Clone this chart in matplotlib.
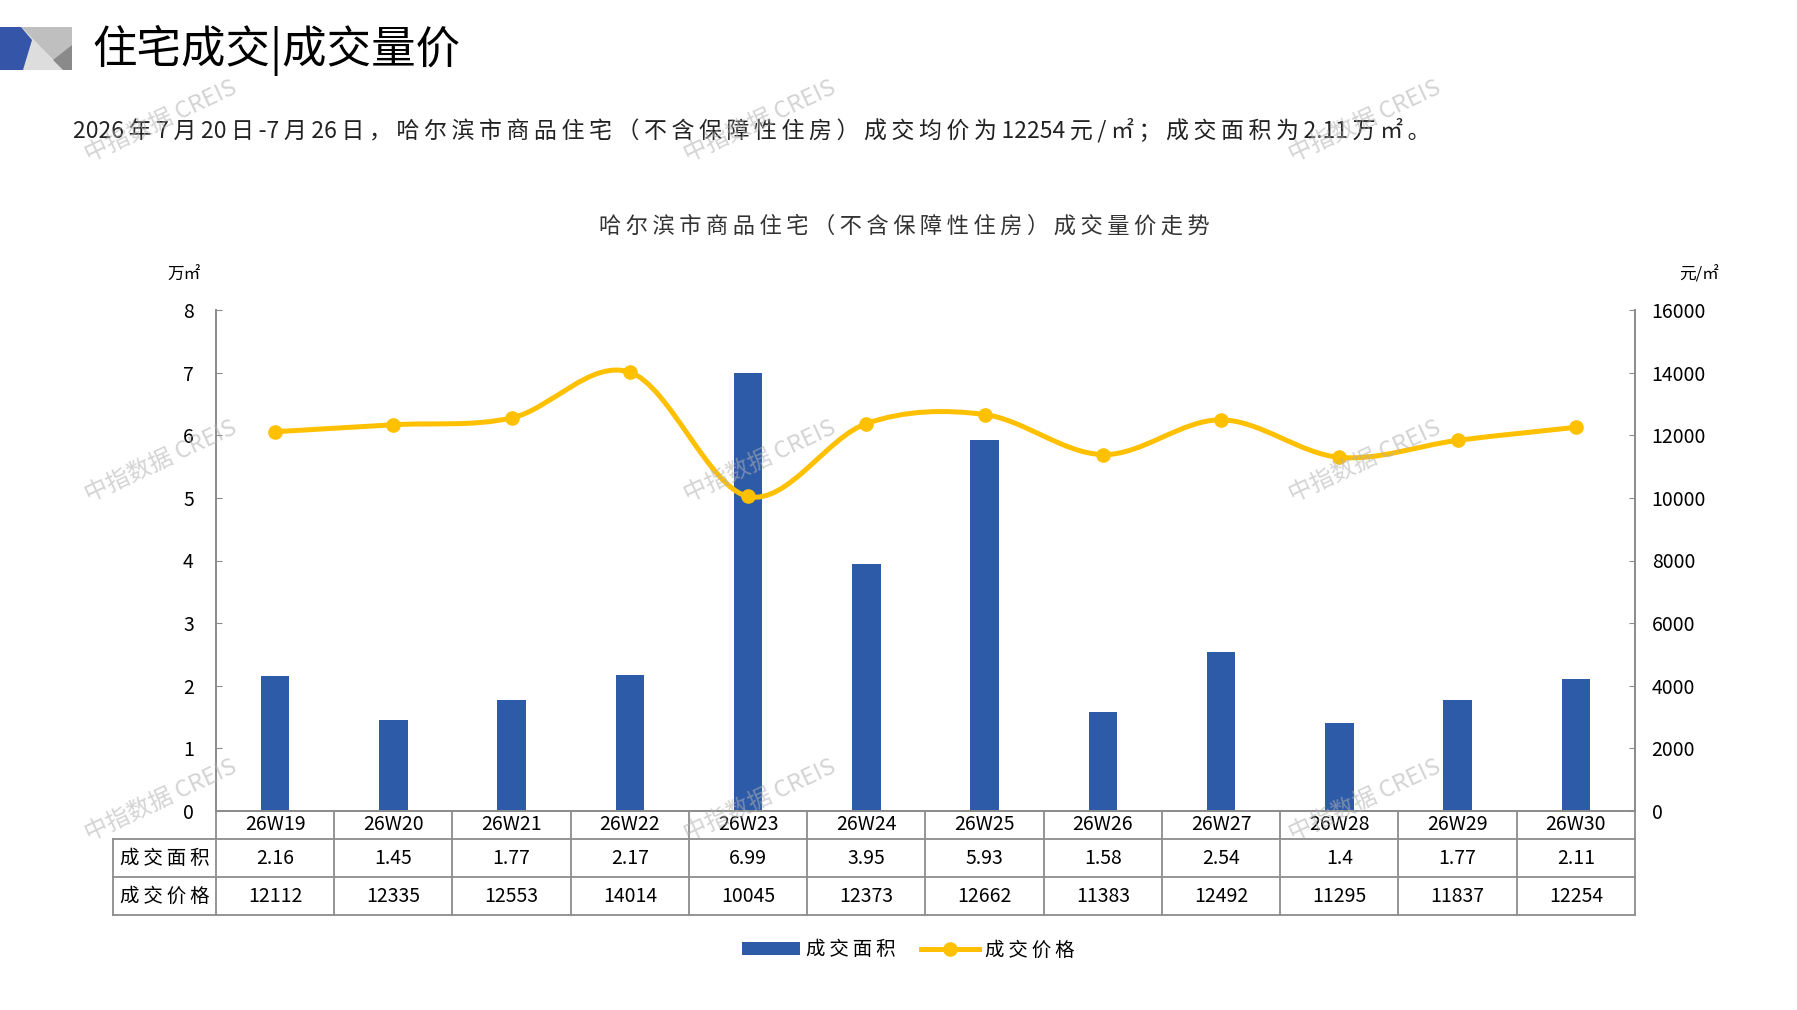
import matplotlib
matplotlib.use("Agg")
import matplotlib.pyplot as plt
import numpy as np
from matplotlib.path import Path
from matplotlib.patches import PathPatch, Polygon, Patch
from matplotlib.lines import Line2D
from matplotlib.transforms import blended_transform_factory

plt.rcParams['font.family'] = ['Noto Sans CJK SC', 'DejaVu Sans']

weeks = ['26W19', '26W20', '26W21', '26W22', '26W23', '26W24',
         '26W25', '26W26', '26W27', '26W28', '26W29', '26W30']
area = [2.16, 1.45, 1.77, 2.17, 6.99, 3.95, 5.93, 1.58, 2.54, 1.4, 1.77, 2.11]
price = [12112, 12335, 12553, 14014, 10045, 12373, 12662, 11383, 12492, 11295, 11837, 12254]
row_names = ['成交面积', '成交价格']

blue = '#2E5BA8'
gold = '#FFC000'
grey = '#8C8C8C'


def spaced(s):
    # loose letter spacing around the CJK glyphs, digits stay together
    out = s[0]
    for a, b in zip(s, s[1:]):
        if ord(a) > 127 or ord(b) > 127:
            out += '\u2009'
        out += b
    return out


W, H = 1797, 1010
fig = plt.figure(figsize=(W / 100, H / 100), dpi=100)

# main chart axes (pixel box: x 216-1635, y 310-811)
ax = fig.add_axes([216 / W, 1 - 811 / H, (1635 - 216) / W, (811 - 310) / H])
ax2 = ax.twinx()

x = np.arange(len(weeks))
ax.bar(x, area, width=0.24, color=blue, zorder=2)
ax.set_xlim(-0.5, len(weeks) - 0.5)
ax.set_ylim(0, 8)
ax.set_yticks(range(0, 9))
ax2.set_ylim(0, 16000)
ax2.set_yticks(range(0, 16001, 2000))
ax.set_xticks([])

for a in (ax, ax2):
    a.spines['top'].set_visible(False)
    for s in ('left', 'right', 'bottom'):
        a.spines[s].set_color(grey)
        a.spines[s].set_linewidth(1.3)
    a.tick_params(axis='y', direction='in', length=4, color=grey, labelsize=14)
ax.tick_params(axis='y', pad=16)
ax2.tick_params(axis='y', pad=12)
ax.patch.set_visible(False)

# smoothed price line drawn as bezier segments through the points
pts = np.column_stack([x, price]).astype(float)
verts = [pts[0]]
codes = [Path.MOVETO]
for i in range(len(pts) - 1):
    p0 = pts[i - 1] if i > 0 else pts[i]
    p1 = pts[i]
    p2 = pts[i + 1]
    p3 = pts[i + 2] if i + 2 < len(pts) else pts[i + 1]
    c1 = p1 + (p2 - p0) / 6.0
    c2 = p2 - (p3 - p1) / 6.0
    verts += [c1, c2, p2]
    codes += [Path.CURVE4] * 3
ax2.add_patch(PathPatch(Path(verts, codes), facecolor='none', edgecolor=gold,
                        lw=3.6, zorder=3, capstyle='round'))
ax2.plot(x, price, 'o', color=gold, markersize=9.5, zorder=4)

# data table under the axis
tr = blended_transform_factory(ax.transData, ax.transAxes)
r1, r2, r3 = -28 / 501, -66 / 501, -104 / 501
x_left = -0.5 - 103 / 118.25
lkw = dict(color=grey, lw=1.3, transform=tr, clip_on=False)
for k in range(len(weeks) + 1):
    ax.plot([k - 0.5, k - 0.5], [0, r3], **lkw)
ax.plot([x_left, x_left], [r1, r3], **lkw)
for yy in (r1, r2, r3):
    ax.plot([x_left, len(weeks) - 0.5], [yy, yy], **lkw)
for i in range(len(weeks)):
    ax.text(i, r1 / 2, weeks[i], transform=tr, ha='center', va='center', fontsize=14)
    ax.text(i, (r1 + r2) / 2, f'{area[i]:g}', transform=tr, ha='center', va='center', fontsize=14)
    ax.text(i, (r2 + r3) / 2, str(price[i]), transform=tr, ha='center', va='center', fontsize=14)
ax.text((x_left - 0.5) / 2, (r1 + r2) / 2, spaced(row_names[0]), transform=tr,
        ha='center', va='center', fontsize=14)
ax.text((x_left - 0.5) / 2, (r2 + r3) / 2, spaced(row_names[1]), transform=tr,
        ha='center', va='center', fontsize=14)

# overlay in pixel coordinates for header, titles, watermark
ov = fig.add_axes([0, 0, 1, 1], zorder=10)
ov.set_xlim(0, W)
ov.set_ylim(H, 0)
ov.axis('off')
ov.patch.set_visible(False)

ov.add_patch(Polygon([(21, 27), (72, 27), (72, 70), (63, 70)], color='#BFBFBF', lw=0))
ov.add_patch(Polygon([(21, 27), (63, 70), (20, 70)], color='#DDDDDD', lw=0))
ov.add_patch(Polygon([(53, 60), (72, 45), (72, 70), (63, 70)], color='#8A8A8A', lw=0))
ov.add_patch(Polygon([(0, 27), (21, 27), (32, 40), (23, 70), (0, 70)], color='#3556A8', lw=0))

ov.text(92, 50, '住宅成交|成交量价', fontsize=32, va='center', ha='left')
ov.text(73, 130, spaced('2026年7月20日-7月26日，哈尔滨市商品住宅（不含保障性住房）'
                        '成交均价为12254元/㎡；成交面积为2.11万㎡。'),
        fontsize=16.5, va='center', ha='left', color='#222222')
ov.text(904, 226, spaced('哈尔滨市商品住宅（不含保障性住房）成交量价走势'), fontsize=16,
        va='center', ha='center', color='#333333')
ov.text(184, 275, '万㎡', fontsize=12, va='center', ha='center')
ov.text(1699, 275, '元/㎡', fontsize=12, va='center', ha='center')

for wx in (161, 760, 1365):
    for wy in (121, 461, 800):
        ov.text(wx, wy, '中指数据 CREIS', fontsize=17, rotation=25, color='#B0B0B0',
                alpha=0.55, ha='center', va='center')

handles = [Patch(facecolor=blue, edgecolor='none'),
           Line2D([0], [0], color=gold, lw=3.6, marker='o', markersize=9.5)]
fig.legend(handles, [spaced(n) for n in row_names], loc='center',
           bbox_to_anchor=(908 / W, 1 - 950 / H),
           ncol=2, frameon=False, fontsize=14, handlelength=3.0, columnspacing=1.3,
           handletextpad=0.3)

fig.savefig('out.png', dpi=100, facecolor='white')
